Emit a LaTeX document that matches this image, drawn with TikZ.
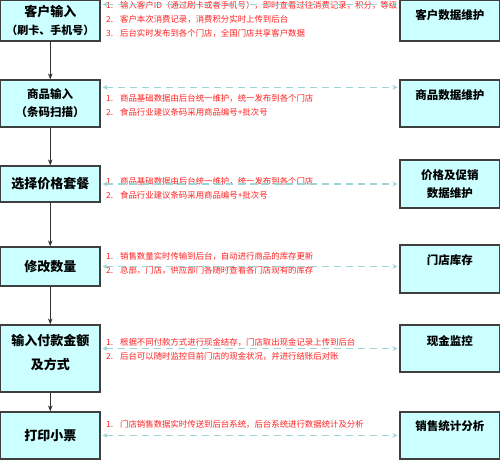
\documentclass[tikz,border=0pt]{standalone}
\usepackage{fontspec}
\newfontfamily\cjk{Noto Sans CJK SC}
\usetikzlibrary{arrows.meta,positioning,calc}
\definecolor{boxfill}{HTML}{CCFFFF}
\definecolor{boxline}{HTML}{3F3F3F}
\definecolor{notered}{HTML}{FF2020}
\definecolor{linkteal}{HTML}{9DD5D5}

\begin{document}
\begin{tikzpicture}[x=1pt, y=-1pt,
    lbox/.style={draw=boxline, line width=1.2pt, fill=boxfill, minimum width=99.5pt, align=center, inner sep=2pt, font=\cjk\bfseries\fontsize{13}{18}\selectfont},
    rbox/.style={draw=boxline, line width=1.2pt, fill=boxfill, minimum width=99.5pt, align=center, inner sep=2pt, font=\cjk\bfseries\fontsize{11.5}{18}\selectfont},
    rtxt/.style={inner sep=0pt, font=\cjk\bfseries\fontsize{11.5}{18}\selectfont},
    note/.style={anchor=north west, inner sep=0pt, align=left, text=notered, font=\cjk\fontsize{8.4}{14}\selectfont},
    flow/.style={-{Stealth[length=6pt,width=4.5pt]}, line width=0.8pt, draw=black!80},
    link/.style={{Stealth[length=5pt,width=5pt]}-{Stealth[length=5pt,width=5pt]}, draw=linkteal, line width=1.5pt, dash pattern=on 7pt off 5pt, shorten <=2pt, shorten >=2pt}]
    \useasboundingbox (0,0) rectangle (500,460);
    % steps on the left
    \node[lbox, minimum height=40.5pt] (khsr) at (50.25,20.75) {客户输入\\{\fontsize{11}{18}\selectfont（刷卡、手机号）}};
    \node[lbox, minimum height=47pt, font=\cjk\bfseries\fontsize{11.5}{18}\selectfont] (spsr) at (50.25,103.5) {商品输入\\（条码扫描）};
    \node[lbox, minimum height=36pt] (xztc) at (50.25,184) {选择价格套餐};
    \node[lbox, minimum height=39pt] (xgsl) at (50.25,266.5) {修改数量};
    \node[lbox, minimum height=67pt] (fkje) at (50.25,358.5) {输入付款金额\\[6pt]及方式\rule[-14pt]{0pt}{0pt}};
    \node[lbox, minimum height=47pt] (dyxp) at (50.25,435.5) {打印小票};
    % back office on the right
    \node[rbox, minimum height=40.5pt] (khwh) at (449.75,20.75) {};
    \node[rtxt] (khwht) at ([yshift=-15pt]khwh.north) {客户数据维护};
    \node[rbox, minimum height=47pt] (spwh) at (449.75,103.5) {};
    \node[rtxt] (spwht) at ([yshift=-16pt]spwh.north) {商品数据维护};
    \node[rbox, minimum height=48pt] (jgwh) at (449.75,184) {价格及促销\\数据维护};
    \node[rbox, minimum height=48pt] (mdkc) at (449.75,269) {};
    \node[rtxt] (mdkct) at ([yshift=-16pt]mdkc.north) {门店库存};
    \node[rbox, minimum height=47pt] (xjjk) at (449.75,348.5) {};
    \node[rtxt] (xjjkt) at ([yshift=-17pt]xjjk.north) {现金监控};
    \node[rbox, minimum height=47pt] (xstj) at (449.75,435.5) {};
    \node[rtxt] (xstjt) at ([yshift=-15pt]xstj.north) {销售统计分析};
    % notes
    \node[note] (khnote) at (106,1) {\makebox[14pt][l]{1.}输入客户ID（通过刷卡或者手机号），即时查看过往消费记录，积分，等级\\
        \makebox[14pt][l]{2.}客户本次消费记录，消费积分实时上传到后台\\
        \makebox[14pt][l]{3.}后台实时发布到各个门店，全国门店共享客户数据};
    \node[note] (spnote) at (106,94) {\makebox[14pt][l]{1.}商品基础数据由后台统一维护，统一发布到各个门店\\
        \makebox[14pt][l]{2.}食品行业建议条码采用商品编号+批次号};
    \node[note] (jgnote) at (106,177) {\makebox[14pt][l]{1.}商品基础数据由后台统一维护，统一发布到各个门店\\
        \makebox[14pt][l]{2.}食品行业建议条码采用商品编号+批次号};
    \node[note] (kcnote) at (106,252) {\makebox[14pt][l]{1.}销售数量实时传输到后台，自动进行商品的库存更新\\
        \makebox[14pt][l]{2.}总部，门店，供应部门各随时查看各门店现有的库存};
    \node[note] (xjnote) at (106,338) {\makebox[14pt][l]{1.}根据不同付款方式进行现金结存，门店取出现金记录上传到后台\\
        \makebox[14pt][l]{2.}后台可以随时监控目前门店的现金状况，并进行结账后对账};
    \node[note] (tjnote) at (106,420) {\makebox[14pt][l]{1.}门店销售数据实时传送到后台系统，后台系统进行数据统计及分析};
    % flow
    \draw[flow] (khsr) -- (spsr);
    \draw[flow] (spsr) -- (xztc);
    \draw[flow] (xztc) -- (xgsl);
    \draw[flow] (xgsl) -- (fkje);
    \draw[flow] (fkje) -- (dyxp);
    % sync links
    \draw[link] ([yshift=-4.5pt]khsr.north east) -- ([yshift=-4.5pt]khwh.north west);
    \draw[link] ([yshift=-8pt]spsr.north east) -- ([yshift=-8pt]spwh.north west);
    \draw[link] (xztc.east) -- (jgwh.west);
    \draw[link] (xgsl.east) -- (xgsl.east -| mdkc.west);
    \draw[link] (xjjk.west -| fkje.east) -- (xjjk.west);
    \draw[link] (dyxp.east) -- (xstj.west);
\end{tikzpicture}
\end{document}
